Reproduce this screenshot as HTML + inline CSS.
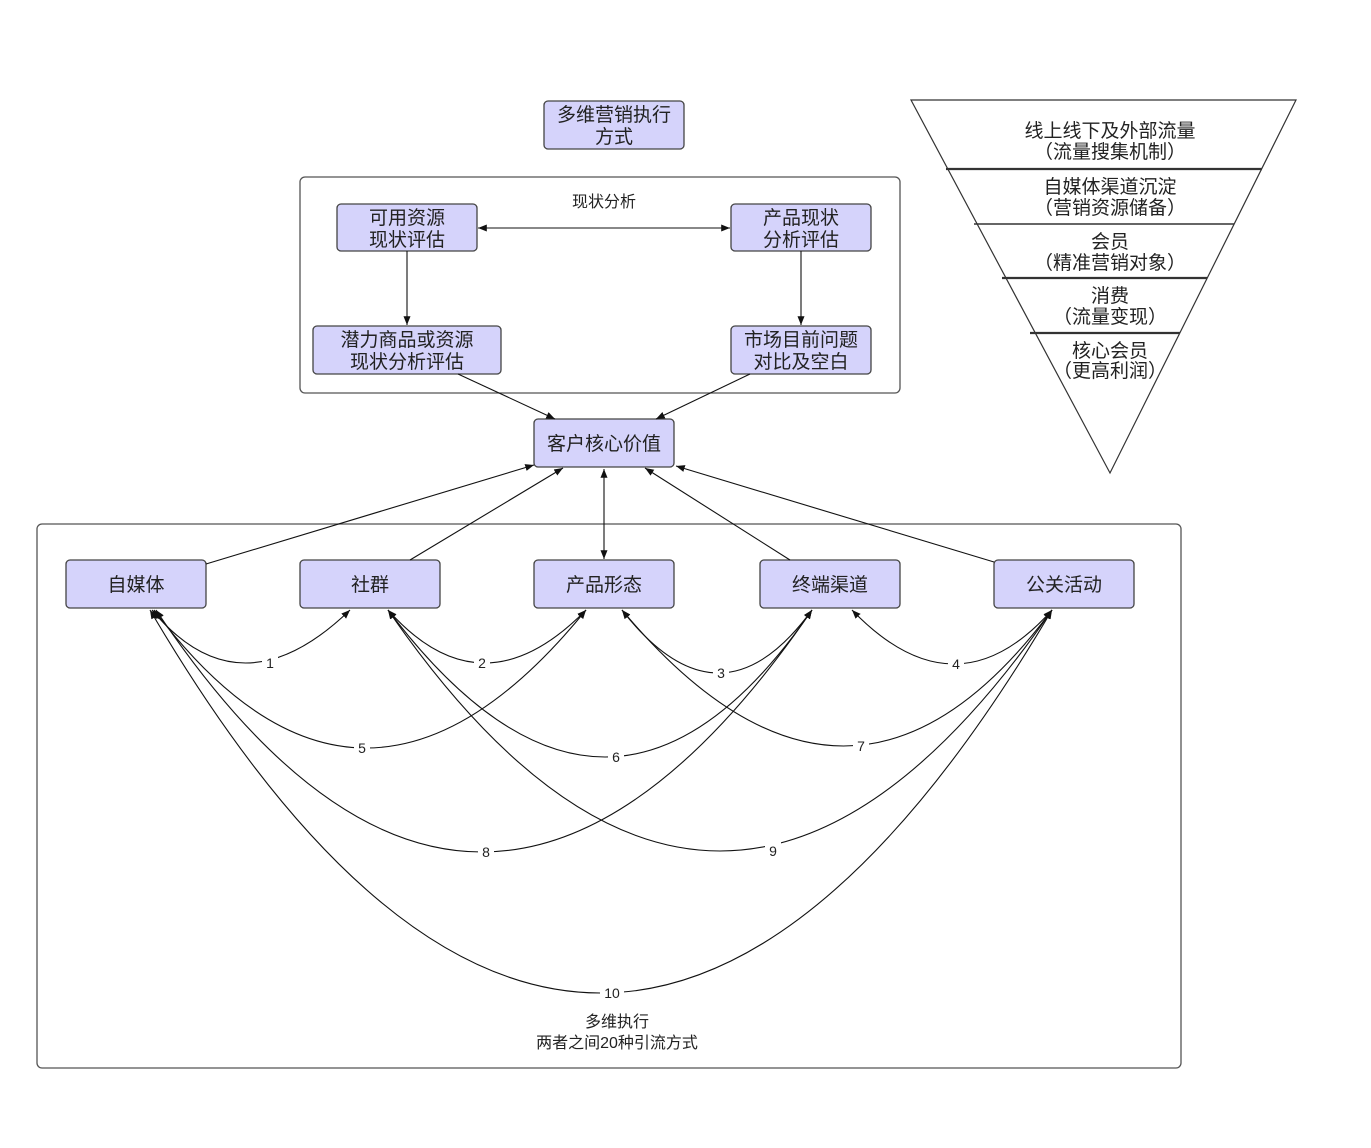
<!DOCTYPE html>
<html><head><meta charset="utf-8"><style>
body{margin:0;background:#fff}
svg text{font-family:"Liberation Sans","Noto Sans CJK SC",sans-serif;fill:#222}
</style></head><body>
<svg width="1371" height="1143" viewBox="0 0 1371 1143" xmlns="http://www.w3.org/2000/svg">
<defs>
<marker id="a" viewBox="0 0 10 10" refX="10" refY="5" markerWidth="8" markerHeight="8" orient="auto-start-reverse"><path d="M0,1 L10,5 L0,9 z" fill="#111"/></marker>
</defs>
<g fill="none" stroke="#555" stroke-width="1.3">
<rect x="300" y="177" width="600" height="216" rx="5"/>
<rect x="37" y="524" width="1144" height="544" rx="5"/>
</g>
<g fill="#d5d3fb" stroke="#444" stroke-width="1.3">
<rect x="544" y="101" width="140" height="48" rx="4"/>
<rect x="337" y="204" width="140" height="47" rx="4"/>
<rect x="731" y="204" width="140" height="47" rx="4"/>
<rect x="313" y="326" width="188" height="48" rx="4"/>
<rect x="731" y="326" width="140" height="48" rx="4"/>
<rect x="534" y="419" width="140" height="48" rx="4"/>
<rect x="66" y="560" width="140" height="48" rx="4"/>
<rect x="300" y="560" width="140" height="48" rx="4"/>
<rect x="534" y="560" width="140" height="48" rx="4"/>
<rect x="760" y="560" width="140" height="48" rx="4"/>
<rect x="994" y="560" width="140" height="48" rx="4"/>
</g>
<g stroke="#111" stroke-width="1.1" fill="none">
<line x1="478" y1="228" x2="730" y2="228" marker-start="url(#a)" marker-end="url(#a)"/>
<line x1="407" y1="251" x2="407" y2="325" marker-end="url(#a)"/>
<line x1="801" y1="251" x2="801" y2="325" marker-end="url(#a)"/>
<line x1="458" y1="374" x2="555" y2="419" marker-end="url(#a)"/>
<line x1="750" y1="374" x2="656" y2="419" marker-end="url(#a)"/>
<line x1="206" y1="564" x2="534" y2="465" marker-end="url(#a)"/>
<line x1="410" y1="560" x2="563" y2="468" marker-end="url(#a)"/>
<line x1="604" y1="469" x2="604" y2="559" marker-start="url(#a)" marker-end="url(#a)"/>
<line x1="790" y1="560" x2="645" y2="468" marker-end="url(#a)"/>
<line x1="994" y1="562" x2="676" y2="466" marker-end="url(#a)"/>
<path d="M152,610 Q240,716 350,610" marker-start="url(#a)" marker-end="url(#a)"/>
<path d="M388,610 Q482,716 586,610" marker-start="url(#a)" marker-end="url(#a)"/>
<path d="M622,610 Q720,736 812,610" marker-start="url(#a)" marker-end="url(#a)"/>
<path d="M852,610 Q956,718 1052,610" marker-start="url(#a)" marker-end="url(#a)"/>
<path d="M154,610 Q362,886 586,610" marker-start="url(#a)" marker-end="url(#a)"/>
<path d="M388,610 Q610,904 812,610" marker-start="url(#a)" marker-end="url(#a)"/>
<path d="M622,610 Q850,882 1052,610" marker-start="url(#a)" marker-end="url(#a)"/>
<path d="M156,610 Q480,1094 812,610" marker-start="url(#a)" marker-end="url(#a)"/>
<path d="M388,610 Q720,1092 1052,610" marker-start="url(#a)" marker-end="url(#a)"/>
<path d="M150,610 Q600,1376 1052,610" marker-start="url(#a)" marker-end="url(#a)"/>
</g>
<g font-size="14" text-anchor="middle">
<rect x="262" y="654" width="16" height="18" fill="#fff"/><text x="270" y="668">1</text>
<rect x="474" y="654" width="16" height="18" fill="#fff"/><text x="482" y="668">2</text>
<rect x="713" y="664" width="16" height="18" fill="#fff"/><text x="721" y="678">3</text>
<rect x="948" y="655" width="16" height="18" fill="#fff"/><text x="956" y="669">4</text>
<rect x="354" y="739" width="16" height="18" fill="#fff"/><text x="362" y="753">5</text>
<rect x="608" y="748" width="16" height="18" fill="#fff"/><text x="616" y="762">6</text>
<rect x="853" y="737" width="16" height="18" fill="#fff"/><text x="861" y="751">7</text>
<rect x="478" y="843" width="16" height="18" fill="#fff"/><text x="486" y="857">8</text>
<rect x="765" y="842" width="16" height="18" fill="#fff"/><text x="773" y="856">9</text>
<rect x="600" y="984" width="24" height="18" fill="#fff"/><text x="612" y="998">10</text>
</g>
<g font-size="19" text-anchor="middle">
<text x="614" y="121">多维营销执行</text><text x="614" y="143">方式</text>
<text x="407" y="224">可用资源</text><text x="407" y="246">现状评估</text>
<text x="801" y="224">产品现状</text><text x="801" y="246">分析评估</text>
<text x="407" y="346">潜力商品或资源</text><text x="407" y="368">现状分析评估</text>
<text x="801" y="346">市场目前问题</text><text x="801" y="368">对比及空白</text>
<text x="604" y="450">客户核心价值</text>
<text x="136" y="591">自媒体</text>
<text x="370" y="591">社群</text>
<text x="604" y="591">产品形态</text>
<text x="830" y="591">终端渠道</text>
<text x="1064" y="591">公关活动</text>
</g>
<g font-size="16" text-anchor="middle">
<text x="604" y="207">现状分析</text>
<text x="617" y="1027">多维执行</text>
<text x="617" y="1048">两者之间20种引流方式</text>
</g>
<g stroke="#333" fill="none">
<path d="M911,100 L1296,100 L1110,473 Z" stroke-width="1.2"/>
<line x1="946" y1="169" x2="1262" y2="169" stroke-width="2.2"/>
<line x1="974" y1="224" x2="1234" y2="224" stroke-width="1.5"/>
<line x1="1002" y1="278" x2="1207" y2="278" stroke-width="2.2"/>
<line x1="1030" y1="333" x2="1180" y2="333" stroke-width="2.2"/>
</g>
<g font-size="19" text-anchor="middle">
<text x="1110" y="137">线上线下及外部流量</text><text x="1110" y="158">（流量搜集机制）</text>
<text x="1110" y="193">自媒体渠道沉淀</text><text x="1110" y="214">（营销资源储备）</text>
<text x="1110" y="248">会员</text><text x="1110" y="269">（精准营销对象）</text>
<text x="1110" y="302">消费</text><text x="1110" y="323">（流量变现）</text>
<text x="1110" y="357">核心会员</text><text x="1110" y="377">（更高利润）</text>
</g>
</svg>
</body></html>
